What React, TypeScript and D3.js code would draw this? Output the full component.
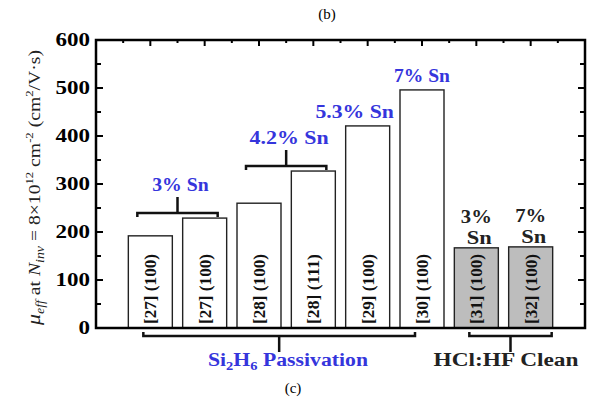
import * as React from 'react'
import { scaleLinear, range } from 'd3'

// bar labels (reference, orientation) and mobility
const barLabels = ['[27] (100)', '[27] (100)', '[28] (100)', '[28] (111)', '[29] (100)', '[30] (100)', '[31] (100)', '[32] (100)']
const mobility = [192, 229, 260, 327, 421, 496, 167, 169]
const cleaned = [false, false, false, false, false, false, true, true]
const yTicks = [0, 100, 200, 300, 400, 500, 600]

const snGroups = [
  { label: '3% Sn', from: 0, to: 1 },
  { label: '4.2% Sn', from: 2, to: 3 },
]
const snSingles = [
  { label: '5.3% Sn', idx: 4 },
  { label: '7% Sn', idx: 5 },
]
const cleanLabels = [
  { idx: 6, top: '3%', bottom: 'Sn' },
  { idx: 7, top: '7%', bottom: 'Sn' },
]

const W = 593
const H = 397
const left = 96
const right = 585
const top = 40
const bottom = 328
const BLUE = '#3535dc'
const SERIF = "'Liberation Serif', 'Times New Roman', Times, serif"

function App() {
  const x = scaleLinear().domain([0, 9]).range([left, right])
  const y = scaleLinear().domain([0, 600]).range([bottom, top])
  const barW = 44

  const minor = range(0, 601, 50)
  const topTicks = range(0.5, 9, 0.5)

  const bracketUp = (x0: number, x1: number, yy: number) =>
    `M${x0},${yy + 4}V${yy}H${x1}V${yy + 4}M${(x0 + x1) / 2},${yy}V${yy - 16}`
  const bracketDown = (x0: number, x1: number, yy: number) =>
    `M${x0},${yy - 4}V${yy}H${x1}V${yy - 4}M${(x0 + x1) / 2},${yy}V${yy + 16}`

  return (
    <svg width={W} height={H} style={{ position: 'absolute', left: 0, top: 0, background: '#fff', fontFamily: SERIF }}>
      <text x={327} y={19} fontSize={15} textAnchor="middle">(b)</text>
      <text x={293} y={393} fontSize={15} textAnchor="middle">(c)</text>

      {/* bars */}
      {mobility.map((v, i) => (
        <rect key={'b' + i} x={x(i + 1) - barW / 2} y={y(v)} width={barW} height={bottom - y(v)}
          fill={cleaned[i] ? '#bdbdbd' : '#fff'} stroke="#222" strokeWidth={1.4} />
      ))}
      {barLabels.map((t, i) => (
        <text key={'l' + i} transform={`translate(${x(i + 1) + 6},${bottom - 4}) rotate(-90)`}
          fontSize={17} fontWeight="bold" fill="#111" textLength={70} lengthAdjust="spacingAndGlyphs">{t}</text>
      ))}

      {/* ticks */}
      {minor.map((v) => (
        <g key={'t' + v} stroke="#000" strokeWidth={2}>
          <line x1={left} x2={left + (v % 100 === 0 ? 7 : 5)} y1={y(v)} y2={y(v)} />
          <line x1={right} x2={right - (v % 100 === 0 ? 7 : 5)} y1={y(v)} y2={y(v)} />
        </g>
      ))}
      {topTicks.map((t) => (
        <line key={'tt' + t} x1={x(t)} x2={x(t)} y1={top} y2={top + (t % 1 === 0 ? 6 : 3)} stroke="#000" strokeWidth={2} />
      ))}
      {yTicks.map((v) => (
        <text key={'yl' + v} x={90} y={y(v) + 6} textAnchor="end" fontSize={18} fontWeight="bold"
          textLength={String(v).length * 11.5} lengthAdjust="spacingAndGlyphs">{v}</text>
      ))}

      {/* frame */}
      <rect x={left} y={top} width={right - left} height={bottom - top} fill="none" stroke="#000" strokeWidth={2.5} />

      {/* Sn annotations */}
      {snGroups.map((g) => {
        const yy = y(Math.max(mobility[g.from], mobility[g.to])) - 5
        const x0 = x(g.from + 1) - 13
        const x1 = x(g.to + 1) + 13
        return (
          <g key={g.label}>
            <path d={bracketUp(x0, x1, yy)} fill="none" stroke="#111" strokeWidth={2.5} />
            <text x={(x0 + x1) / 2 + 3} y={yy - 22} textAnchor="middle" fontSize={18} fontWeight="bold" fill={BLUE}
              textLength={g.label.length * 11.3} lengthAdjust="spacingAndGlyphs">{g.label}</text>
          </g>
        )
      })}
      {snSingles.map((s, k) => (
        <text key={s.label} x={x(s.idx + 1) - (k === 0 ? 13 : 0)} y={y(mobility[s.idx]) - 8} textAnchor="middle"
          fontSize={18} fontWeight="bold" fill={BLUE} textLength={s.label.length * 11.2} lengthAdjust="spacingAndGlyphs">{s.label}</text>
      ))}
      {cleanLabels.map((c) => (
        <g key={'c' + c.idx} fontSize={18} fontWeight="bold" fill="#222" textAnchor="middle">
          <text x={x(c.idx + 1)} y={y(mobility[c.idx]) - 25} textLength={31} lengthAdjust="spacingAndGlyphs">{c.top}</text>
          <text x={x(c.idx + 1) + 3} y={y(mobility[c.idx]) - 4} textLength={25} lengthAdjust="spacingAndGlyphs">{c.bottom}</text>
        </g>
      ))}

      {/* treatment brackets */}
      <path d={bracketDown(x(1) - 7, x(6) - 7, 336)} fill="none" stroke="#111" strokeWidth={2.5} />
      <path d={bracketDown(x(7) - 7, x(8) + 21, 336)} fill="none" stroke="#111" strokeWidth={2.5} />
      <text x={288} y={366} textAnchor="middle" fontSize={18} fontWeight="bold" fill={BLUE} textLength={160} lengthAdjust="spacingAndGlyphs">
        Si<tspan fontSize={12} dy={4}>2</tspan><tspan dy={-4}>H</tspan><tspan fontSize={12} dy={4}>6</tspan><tspan dy={-4}> Passivation</tspan>
      </text>
      <text x={506} y={366} textAnchor="middle" fontSize={18} fontWeight="bold" fill="#222" textLength={145} lengthAdjust="spacingAndGlyphs">
        HCl:HF Clean
      </text>

      {/* y title */}
      <text transform={`translate(40,${(50 + 325) / 2}) rotate(-90)`} textAnchor="middle" fontSize={17} fill="#222"
        textLength={275} lengthAdjust="spacingAndGlyphs">
        <tspan fontStyle="italic" fontSize={19}>μ</tspan>
        <tspan fontStyle="italic" fontSize={12} dy={4}>eff</tspan>
        <tspan dy={-4}> at </tspan>
        <tspan fontStyle="italic">N</tspan>
        <tspan fontStyle="italic" fontSize={12} dy={4}>inv</tspan>
        <tspan dy={-4}> = 8×10</tspan>
        <tspan fontSize={11} dy={-7}>12</tspan>
        <tspan dy={7}> cm</tspan>
        <tspan fontSize={11} dy={-7}>-2</tspan>
        <tspan dy={7}> (cm</tspan>
        <tspan fontSize={11} dy={-7}>2</tspan>
        <tspan dy={7}>/V·s)</tspan>
      </text>
    </svg>
  )
}

export default App
